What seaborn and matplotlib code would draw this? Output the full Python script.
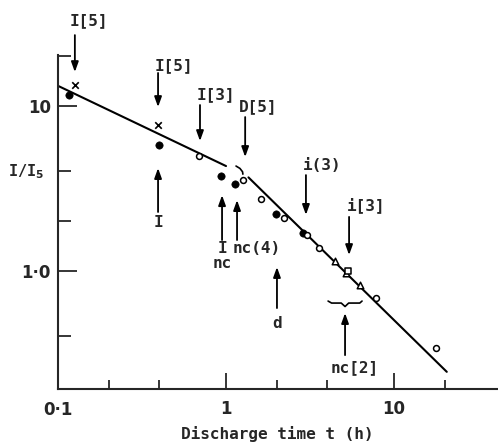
import matplotlib
matplotlib.use("Agg")
import matplotlib.pyplot as plt
import matplotlib.ticker as mticker
import seaborn as sns
import pandas as pd

# ---- data ----
cross_t = [0.126, 0.394]
cross_v = [13.3, 7.64]
filled_t = [0.116, 0.40, 0.934, 1.13, 1.98, 2.88]
filled_v = [11.6, 5.78, 3.75, 3.35, 2.20, 1.69]
open_t = [0.69, 1.26, 1.61, 2.21, 3.05, 3.59, 7.78, 17.7]
open_v = [4.95, 3.55, 2.72, 2.08, 1.65, 1.37, 0.68, 0.339]
tri_t = [4.45, 5.17, 6.28]
tri_v = [1.15, 0.97, 0.82]
sq_t = [5.35]
sq_v = [1.00]

fit1_t = [0.10, 1.00]
fit1_v = [13.2, 4.31]
fit2_t = [1.36, 20.6]
fit2_v = [3.68, 0.244]

x_ticks_major = [1, 10]
x_ticks_minor = [0.2, 0.4, 2, 4, 20]
x_ticklabels = ["1", "10"]
y_ticks_major = [1, 10]
y_ticks_minor = [0.4, 2, 4, 20]
y_ticklabels = ["1\u00b70", "10"]

# down arrows: label, x, y_tail, y_tip, label_x(left), label_y
down_arrows = [
    ("I[5]", 0.126, 26.8, 16.0, 0.118, 32.6),
    ("I[5]", 0.394, 15.8, 9.82, 0.378, 17.6),
    ("I[3]", 0.70, 10.1, 6.11, 0.672, 11.6),
    ("D[5]", 1.30, 8.54, 4.89, 1.195, 9.82),
    ("i(3)", 2.99, 3.80, 2.18, 2.87, 4.37),
    ("i[3]", 5.40, 2.12, 1.245, 5.25, 2.50),
]
# up arrows: label, x, y_tail, y_tip, label_x, label_y, ha
up_arrows = [
    ("I", 0.394, 2.27, 4.19, 0.394, 1.95, "center"),
    ("I\nnc", 0.947, 1.535, 2.87, 0.947, 1.23, "center"),
    ("nc(4)", 1.163, 1.535, 2.68, 1.10, 1.373, "left"),
    ("d", 2.01, 0.594, 1.053, 2.01, 0.482, "center"),
    ("nc[2]", 5.11, 0.308, 0.554, 5.86, 0.257, "center"),
]
brace_t = [4.05, 4.25, 4.85, 5.11, 5.37, 6.25, 6.45]
brace_v = [0.655, 0.637, 0.637, 0.607, 0.637, 0.637, 0.655]
hook_t = [1.147, 1.21, 1.254, 1.26]
hook_v = [4.31, 4.17, 3.98, 3.85]

sns.set_style("ticks")
plt.rcParams["font.family"] = ["DejaVu Sans"]

fig = plt.figure(figsize=(4.98, 4.44), dpi=100)
ax = fig.add_axes([58 / 498, 55 / 444, 439 / 498, 334 / 444])
ax.set_xscale("log")
ax.set_yscale("log")
ax.set_xlim(0.1, 41)
ax.set_ylim(0.192, 20.3)

# fitted lines
for tt, vv in [(fit1_t, fit1_v), (fit2_t, fit2_v)]:
    sns.lineplot(x=tt, y=vv, ax=ax, color="black", lw=1.5, legend=False)

# points
sns.scatterplot(x=cross_t, y=cross_v, ax=ax, marker="x", s=22, color="black",
                linewidth=1.2, legend=False)
sns.scatterplot(x=filled_t, y=filled_v, ax=ax, marker="o", s=28, color="black",
                edgecolor="black", legend=False)
sns.scatterplot(x=open_t, y=open_v, ax=ax, marker="o", s=18, facecolor="white",
                edgecolor="black", linewidth=1.1, legend=False, zorder=4)
sns.scatterplot(x=tri_t, y=tri_v, ax=ax, marker="^", s=22, facecolor="white",
                edgecolor="black", linewidth=1.1, legend=False, zorder=4)
sns.scatterplot(x=sq_t, y=sq_v, ax=ax, marker="s", s=22, facecolor="white",
                edgecolor="black", linewidth=1.1, legend=False, zorder=4)

# brace and hook
ax.plot(brace_t, brace_v, color="black", lw=1.2)
ax.plot(hook_t, hook_v, color="black", lw=1.2)

lab_font = dict(family="DejaVu Sans Mono", fontweight="bold", fontsize=11.5)
ap = dict(arrowstyle="-|>,head_length=0.5,head_width=0.18", color="black",
          lw=1.3, mutation_scale=12, shrinkA=0, shrinkB=0)
for lab, x, yt, yp, lx, ly in down_arrows:
    ax.annotate("", xy=(x, yp), xytext=(x, yt), arrowprops=ap,
                annotation_clip=False)
    ax.text(lx, ly, lab, ha="left", va="center", clip_on=False, **lab_font)
for lab, x, yt, yp, lx, ly, ha in up_arrows:
    ax.annotate("", xy=(x, yp), xytext=(x, yt), arrowprops=ap,
                annotation_clip=False)
    ax.text(lx, ly, lab, ha=ha, va="center", clip_on=False,
            linespacing=1.0, **lab_font)

# axes styling
for s in ["top", "right"]:
    ax.spines[s].set_visible(False)
for s in ["left", "bottom"]:
    ax.spines[s].set_linewidth(1.5)

ax.xaxis.set_major_locator(mticker.FixedLocator(x_ticks_major))
ax.xaxis.set_minor_locator(mticker.FixedLocator(x_ticks_minor))
ax.yaxis.set_major_locator(mticker.FixedLocator(y_ticks_major))
ax.yaxis.set_minor_locator(mticker.FixedLocator(y_ticks_minor))
ax.set_xticklabels(x_ticklabels)
ax.set_yticklabels(y_ticklabels)
ax.xaxis.set_minor_formatter(mticker.NullFormatter())
ax.yaxis.set_minor_formatter(mticker.NullFormatter())
ax.tick_params(axis="x", which="major", direction="in", length=11.5, width=1.3,
               pad=8, labelsize=12)
ax.tick_params(axis="x", which="minor", direction="in", length=6.5, width=1.3)
ax.tick_params(axis="y", which="major", direction="in", length=14, width=1.3,
               pad=5, labelsize=12)
ax.tick_params(axis="y", which="minor", direction="in", length=9.5, width=1.3)
for lbl in ax.get_xticklabels() + ax.get_yticklabels():
    lbl.set_fontweight("bold")

# extra "0·1" label at the origin
ax.text(0.1, -0.035, "0\u00b71", transform=ax.get_xaxis_transform(),
        ha="center", va="top", fontsize=12, fontweight="bold")

ax.text(-0.073, 4.0, "I/I$_\\mathbf{5}$", transform=ax.get_yaxis_transform(),
        ha="center", va="center", family="DejaVu Sans Mono",
        fontweight="bold", fontsize=11)
ax.set_xlabel("Discharge time t (h)", family="DejaVu Sans Mono",
              fontweight="bold", fontsize=11.5, labelpad=6)

fig.savefig("out.png", dpi=100)
